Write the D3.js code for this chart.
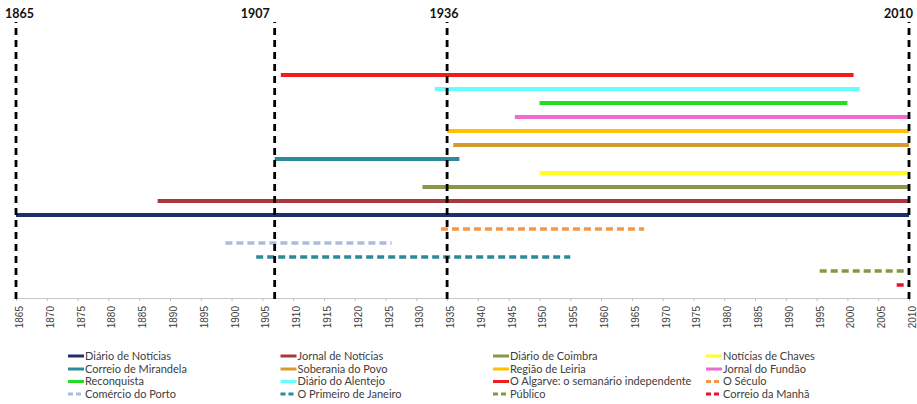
<!DOCTYPE html>
<html>
<head>
<meta charset="utf-8">
<script src="https://cdn.jsdelivr.net/npm/d3@7"></script>
<style>
  html, body { margin: 0; padding: 0; background: #fff; }
  svg { display: block; font-family: Lato, "Open Sans", "Liberation Sans", sans-serif; }
</style>
</head>
<body>
<svg id="chart" width="917" height="404"></svg>
<script>
// ---- data ----
const seriesNames = [
  "Diário de Notícias", "Jornal de Notícias", "Diário de Coimbra", "Notícias de Chaves",
  "Correio de Mirandela", "Soberania do Povo", "Região de Leiria", "Jornal do Fundão",
  "Reconquista", "Diário do Alentejo", "O Algarve: o semanário independente", "O Século",
  "Comércio do Porto", "O Primeiro de Janeiro", "Público", "Correio da Manhã"
];
const startYears = [1865, 1888, 1931, 1950, 1907, 1936, 1935, 1946, 1950, 1933, 1908, 1934, 1899, 1904, 1995.5, 2008];
const endYears   = [2010, 2010, 2010, 2010, 1937, 2010, 2010, 2010, 2000, 2002, 2001, 1967, 1926, 1955, 2010, 2010];
const levels     = [6, 7, 8, 9, 10, 11, 12, 13, 14, 15, 16, 5, 4, 3, 2, 1];
const markerYears  = [1865, 1907, 1935, 2010];
const markerLabels = ["1865", "1907", "1936", "2010"];
const tickYears = d3.range(1865, 2011, 5);

// ---- styles ----
const seriesColors = [
  "#1F2F6E", "#A9373B", "#86994A", "#FFFF22",
  "#2E8A99", "#D49A2E", "#FFC000", "#F06BD0",
  "#22DD22", "#66FFFF", "#F01C1C", "#F79646",
  "#A8BEDD", "#2A8A9A", "#7F9A40", "#F0102A"
];
const seriesDashed = [false,false,false,false,false,false,false,false,false,false,false,true,true,true,true,true];

const svg = d3.select("#chart");
const x = d3.scaleLinear().domain([1865, 2010]).range([16, 909]);
const y = d3.scaleLinear().domain([0, 20]).range([299, 19]);

// axis
const axis = d3.axisBottom(x).tickValues(tickYears).tickFormat(d3.format("d")).tickSize(3).tickSizeOuter(0);
const gAxis = svg.append("g").attr("transform", `translate(0,${y(0) - 1})`).call(axis);
gAxis.select(".domain").attr("stroke", "#c8c8c8");
gAxis.selectAll(".tick line").attr("stroke", "#bdbdbd");
gAxis.selectAll(".tick text")
  .attr("transform", "rotate(-90)")
  .attr("text-anchor", "end")
  .attr("x", -8).attr("y", 3).attr("dy", "0.35em")
  .attr("fill", "#404040")
  .style("font-size", "10px");

// series
const idx = d3.range(seriesNames.length);
svg.append("g").selectAll("line").data(idx).join("line")
  .attr("x1", i => x(startYears[i]))
  .attr("x2", i => x(endYears[i]))
  .attr("y1", i => y(levels[i]))
  .attr("y2", i => y(levels[i]))
  .attr("stroke", i => seriesColors[i])
  .attr("stroke-width", i => seriesDashed[i] ? 3.5 : 4)
  .attr("stroke-dasharray", i => seriesDashed[i] ? "7,4" : null);

// marker lines
const gm = svg.append("g");
gm.selectAll("line").data(markerYears).join("line")
  .attr("x1", d => x(d)).attr("x2", d => x(d))
  .attr("y1", y(0)).attr("y2", 22)
  .attr("stroke", "#000").attr("stroke-width", 2.8)
  .attr("stroke-dasharray", "7,5");
gm.selectAll("text").data(markerYears).join("text")
  .attr("x", (d, i) => x(d) + [-11, -5, -3, 4][i])
  .attr("y", 18)
  .attr("text-anchor", (d, i) => ["start", "end", "middle", "end"][i])
  .attr("font-weight", "bold")
  .style("font-size", "12.5px")
  .attr("fill", "#111")
  .text((d, i) => markerLabels[i]);

// legend
const colX = [68, 280.5, 493, 706];
const rowY = [356, 369, 381.5, 394];
const lg = svg.append("g").selectAll("g").data(idx).join("g")
  .attr("transform", i => `translate(${colX[i % 4]},${rowY[Math.floor(i / 4)]})`);
lg.append("line")
  .attr("x1", 0).attr("x2", 16).attr("y1", 0).attr("y2", 0)
  .attr("stroke", i => seriesColors[i])
  .attr("stroke-width", 3)
  .attr("stroke-dasharray", i => seriesDashed[i] ? "5,3" : null);
lg.append("text")
  .attr("x", 17).attr("y", 0).attr("dy", "0.35em")
  .attr("fill", "#404040")
  .style("font-size", "11px")
  .text(i => seriesNames[i]);
</script>
</body>
</html>
